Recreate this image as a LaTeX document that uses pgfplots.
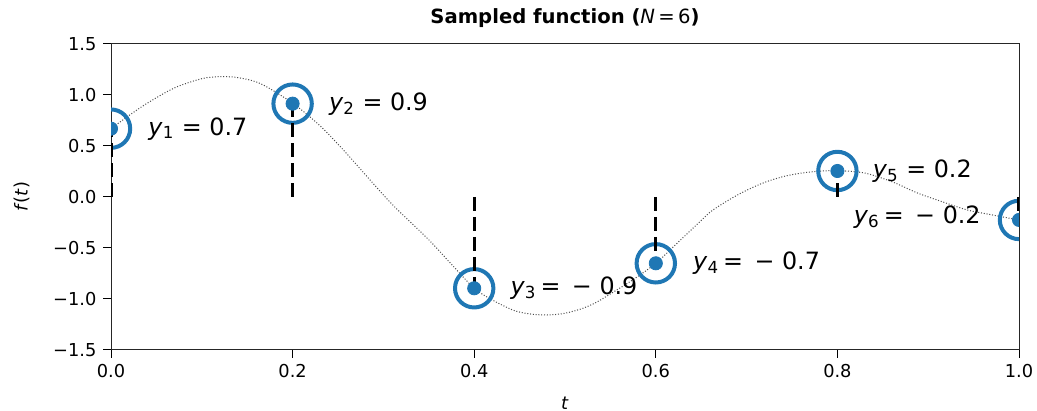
\documentclass[border=0pt]{standalone}
\usepackage{fontspec}
\setmainfont{DejaVu Sans}
\usepackage{pgfplots}
\usepackage{pgfplotstable}
\pgfplotsset{compat=1.18}
\definecolor{mplblue}{HTML}{1F77B4}

\pgfplotstableread{
t y
0.00 0.67
0.02 0.80
0.04 0.92
0.07 1.07
0.10 1.16
0.12 1.18
0.14 1.17
0.165 1.11
0.20 0.92
0.23 0.70
0.256 0.46
0.28 0.22
0.30 0.02
0.315 -0.12
0.35 -0.42
0.375 -0.66
0.40 -0.895
0.42 -1.01
0.443 -1.11
0.46 -1.145
0.48 -1.157
0.50 -1.14
0.52 -1.09
0.535 -1.03
0.55 -0.95
0.575 -0.81
0.60 -0.65
0.625 -0.44
0.65 -0.23
0.663 -0.127
0.69 0.02
0.718 0.137
0.745 0.21
0.773 0.248
0.80 0.258
0.83 0.235
0.86 0.15
0.888 0.04
0.915 -0.045
0.943 -0.127
0.97 -0.175
1.00 -0.225
}\curvedata

\pgfplotstableread{
t y
0.0 0.67
0.2 0.915
0.4 -0.895
0.6 -0.65
0.8 0.255
1.0 -0.225
}\sampledata

\newcommand{\ann}[2]{\textit{y}\textsubscript{#1} = #2}

\begin{document}
\begin{tikzpicture}
\begin{axis}[
  set layers, clip mode=individual,
  at={(0,0)}, anchor=south west,
  scale only axis, width=454pt, height=153pt,
  xmin=0, xmax=1, ymin=-1.5, ymax=1.5,
  xtick={0,0.2,0.4,0.6,0.8,1},
  xticklabels={0.0,0.2,0.4,0.6,0.8,1.0},
  ytick={-1.5,-1,-0.5,0,0.5,1,1.5},
  yticklabels={−1.5,−1.0,−0.5,0.0,0.5,1.0,1.5},
  xtick pos=bottom, ytick pos=left,
  tick align=outside, major tick length=3.8pt,
  tick style={line width=0.5pt, black},
  axis line style={line width=0.5pt, black!85},
  ticklabel style={font=\fontsize{8.9}{10}\selectfont},
  clip marker paths=true,
  title={\textbf{Sampled function (}\textit{N}\,=\,6\textbf{)}},
  every axis title/.style={at={(axis description cs:0.5,1.085)}, anchor=center, font=\fontsize{9.8}{11}\selectfont},
  xlabel={\textit{t}},
  every axis x label/.style={at={(axis description cs:0.5,-0.173)}, anchor=center, font=\fontsize{8.9}{10}\selectfont},
  ylabel={\textit{f}(\textit{t})},
  every axis y label/.style={at={(axis description cs:-0.098,0.5)}, rotate=90, anchor=center, font=\fontsize{8.9}{10}\selectfont},
]
\addplot[on layer=axis background, black!70, line width=0.5pt, dash pattern=on 0.5pt off 0.9pt, smooth, tension=0.5] table[x=t,y=y] {\curvedata};
\addplot[mplblue, only marks, mark=o, mark size=9.6pt, mark options={line width=2pt, draw=mplblue, fill=none, solid}] table[x=t,y=y] {\sampledata};
\addplot[ycomb, black, line width=1.6pt, dash pattern=on 7pt off 3pt] table[x=t,y=y] {\sampledata};
\addplot[on layer=axis foreground, mplblue, only marks, mark=*, mark size=3.3pt, mark options={draw=none, fill=mplblue, solid}] table[x=t,y=y] {\sampledata};

\begin{scope}[every node/.style={font=\fontsize{11.9}{14}\selectfont, inner sep=0pt}]
\node[anchor=west, xshift=18.5pt] at (axis cs:0,0.67) {\ann{1}{0.7}};
\node[anchor=west, xshift=18pt] at (axis cs:0.2,0.915) {\ann{2}{0.9}};
\node[anchor=west, xshift=18pt] at (axis cs:0.4,-0.895) {\textit{y}\textsubscript{3}\,=\, − 0.9};
\node[anchor=west, xshift=18.5pt] at (axis cs:0.6,-0.65) {\textit{y}\textsubscript{4}\,=\, − 0.7};
\node[anchor=west, xshift=17.5pt] at (axis cs:0.8,0.255) {\ann{5}{0.2}};
\node[anchor=east, xshift=-19pt] at (axis cs:1.0,-0.20) {\textit{y}\textsubscript{6}\,=\, − 0.2};
\end{scope}
\end{axis}
\pgfresetboundingbox
\useasboundingbox (-55.5pt,-30.5pt) rectangle (463pt,175pt);
\end{tikzpicture}
\end{document}
